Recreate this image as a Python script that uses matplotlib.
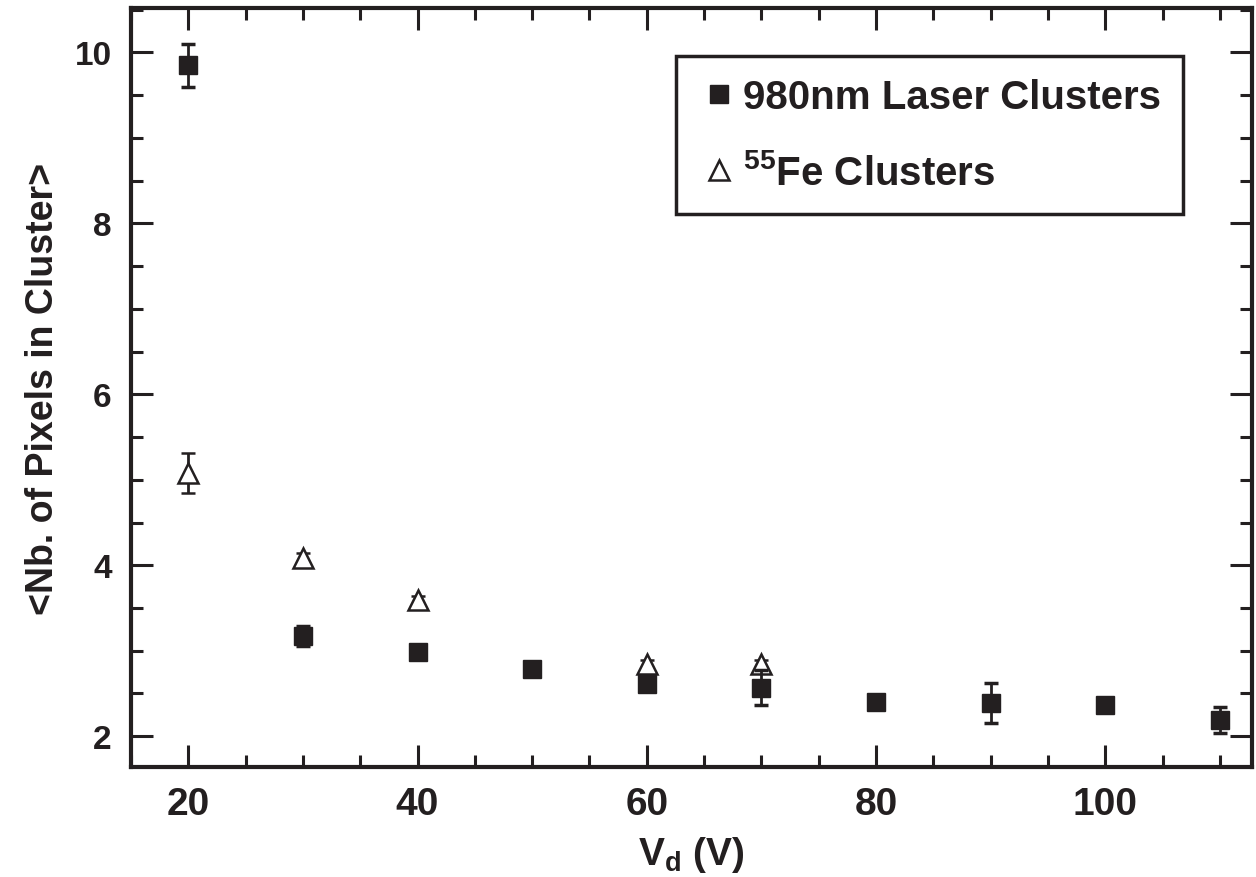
import matplotlib
matplotlib.use("Agg")
import matplotlib.pyplot as plt
from matplotlib.lines import Line2D
from matplotlib.ticker import MultipleLocator

plt.rcParams['font.family'] = ['Liberation Sans', 'DejaVu Sans']
plt.rcParams['font.weight'] = 'bold'
plt.rcParams['axes.labelweight'] = 'bold'
plt.rcParams['mathtext.fontset'] = 'custom'
plt.rcParams['mathtext.rm'] = 'Liberation Sans:bold'
plt.rcParams['mathtext.bf'] = 'Liberation Sans:bold'
plt.rcParams['mathtext.it'] = 'Liberation Sans:bold'

INK = '#231f20'

# laser clusters (980 nm)
laser_vd = [20, 30, 40, 50, 60, 70, 80, 90, 100, 110]
laser_npix = [9.85, 3.17, 2.98, 2.79, 2.61, 2.57, 2.40, 2.39, 2.36, 2.19]
laser_err = [0.25, 0.12, 0.05, 0.05, 0.05, 0.20, 0.05, 0.23, 0.05, 0.15]

# 55Fe clusters
fe_vd = [20, 30, 40, 60, 70]
fe_npix = [5.08, 4.09, 3.59, 2.84, 2.84]
fe_err = [0.23, 0.05, 0.05, 0.05, 0.05]

fig = plt.figure(figsize=(12.56, 8.78), dpi=100)
ax = fig.add_axes([0.1043, 0.1253, 0.8925, 0.8644])

ax.errorbar(fe_vd, fe_npix, yerr=fe_err, fmt='^', ms=14, mfc='white',
            mec=INK, mew=1.8, ecolor=INK, elinewidth=2, capsize=5, capthick=2.5,
            zorder=3)
ax.errorbar(laser_vd, laser_npix, yerr=laser_err, fmt='s', ms=13, mfc=INK,
            mec=INK, ecolor=INK, elinewidth=2, capsize=5, capthick=2.5,
            zorder=4)

ax.set_xlim(15, 112.8)
ax.set_ylim(1.64, 10.52)
ax.xaxis.set_major_locator(MultipleLocator(20))
ax.xaxis.set_minor_locator(MultipleLocator(5))
ax.yaxis.set_major_locator(MultipleLocator(2))
ax.yaxis.set_minor_locator(MultipleLocator(0.5))

ax.tick_params(which='both', direction='in', top=True, right=True, color=INK,
               width=2.2)
ax.tick_params(which='major', length=16)
ax.tick_params(which='minor', length=8.5)
ax.tick_params(axis='x', labelsize=28, pad=14, labelcolor=INK)
ax.tick_params(axis='y', labelsize=24, pad=14, labelcolor=INK)
for s in ax.spines.values():
    s.set_linewidth(3)
    s.set_color(INK)

ax.set_xlabel(r'V$_\mathrm{d}$ (V)', fontsize=28, color=INK, labelpad=8)
ax.set_ylabel('<Nb. of Pixels in Cluster>', fontsize=27, color=INK, labelpad=10)

# legend shows the bare markers only
handles = [
    Line2D([], [], ls='none', marker='s', ms=13, mfc=INK, mec=INK),
    Line2D([], [], ls='none', marker='^', ms=14, mfc='white', mec=INK, mew=1.8),
]
labels = ['980nm Laser Clusters', r'$^{55}$Fe Clusters']
leg = ax.legend(handles, labels, loc='upper right',
                bbox_to_anchor=(0.9385, 0.9365), fontsize=29, frameon=True,
                fancybox=False, framealpha=1, edgecolor=INK, handlelength=1.0,
                handletextpad=0.1, labelspacing=0.9, borderpad=0.55,
                borderaxespad=0)
leg.get_frame().set_linewidth(2.5)
for t in leg.get_texts():
    t.set_color(INK)

fig.savefig('out.png', dpi=100)
